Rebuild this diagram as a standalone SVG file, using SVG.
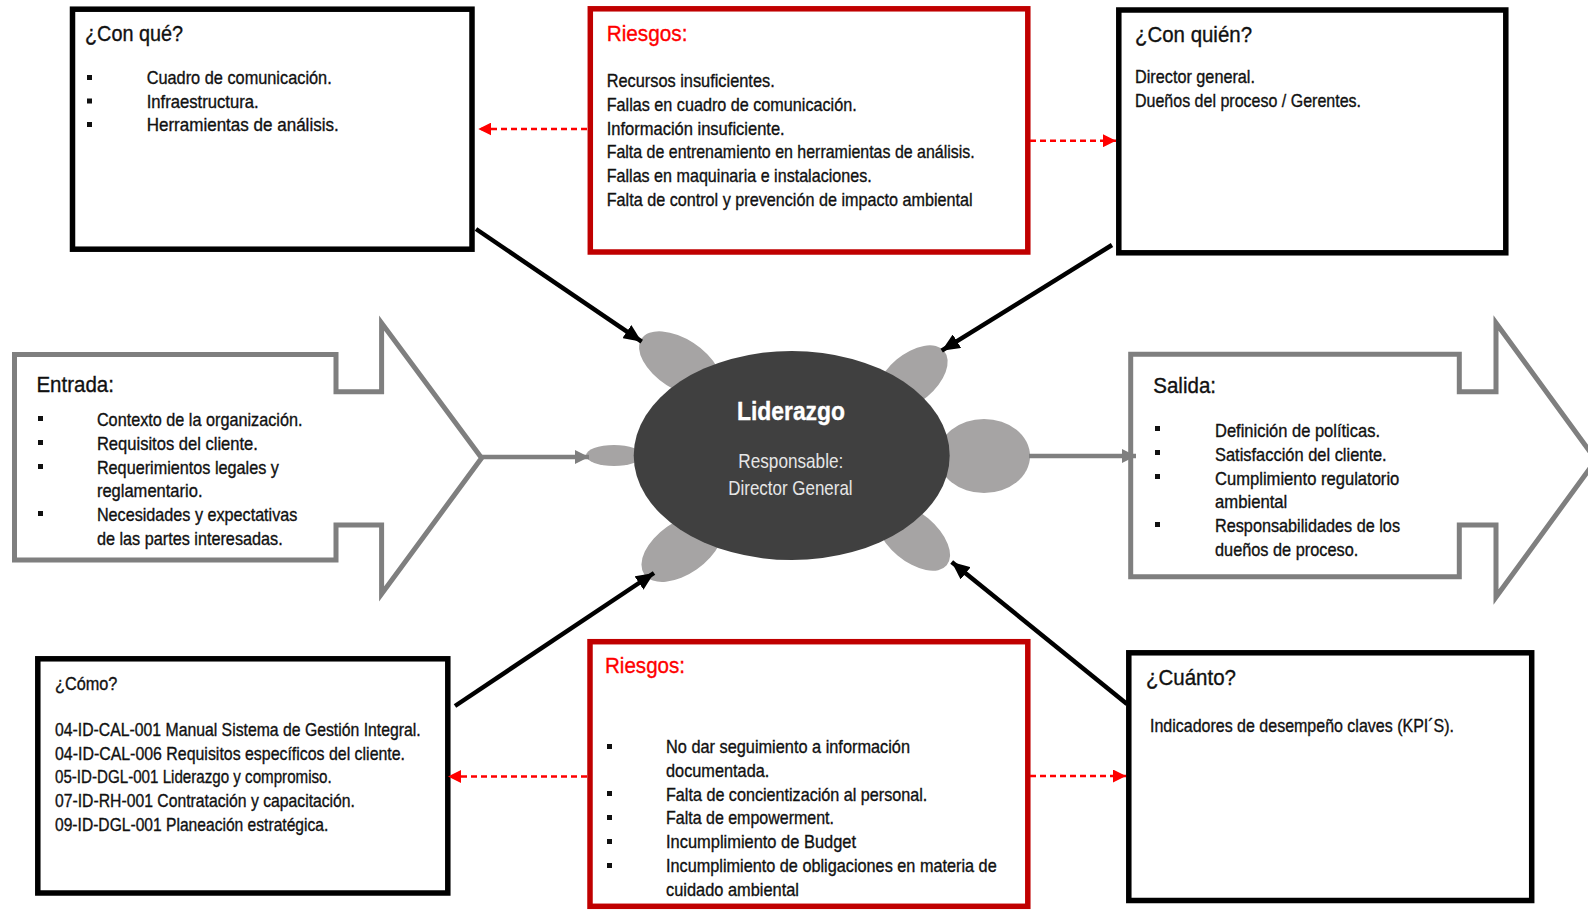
<svg xmlns="http://www.w3.org/2000/svg" width="1588" height="910" viewBox="0 0 1588 910">
  <defs>
    <style>
      text { font-family: "Liberation Sans Narrow", "Liberation Sans", Arial, sans-serif; fill: #111; stroke: #111; stroke-width: 0.35; }
      .t { font-size: 22px; }
      .b { font-size: 18.5px; }
      .red { fill: #ff0000; stroke: #ff0000; }
      .box { fill: #fff; stroke: #000; stroke-width: 5.5; }
      .rbox { fill: #fff; stroke: #c00000; stroke-width: 5.5; }
      .io { fill: #fff; stroke: #7f7f7f; stroke-width: 5; stroke-linejoin: miter; stroke-miterlimit: 10; }
      .blt { fill: #111; }
      .petal { fill: #a6a4a4; }
      .core { fill: #404040; }
      .ct { fill: #ffffff; stroke: #ffffff; }
      .cs { fill: #e6e6e6; stroke: none; font-size: 21px; }
      .blk { stroke: #000; stroke-width: 4.5; fill: none; }
      .gry { stroke: #7f7f7f; stroke-width: 4.5; fill: none; }
      .dsh { stroke: #ff0000; stroke-width: 2.5; stroke-dasharray: 6 4; fill: none; }
    </style>
    <marker id="headBlack" markerUnits="userSpaceOnUse" viewBox="0 0 18 16" refX="18" refY="8" markerWidth="18" markerHeight="16" orient="auto">
      <path d="M0,0 L18,8 L0,16 Z" fill="#000"/>
    </marker>
    <marker id="headGray" markerUnits="userSpaceOnUse" viewBox="0 0 14 14" refX="14" refY="7" markerWidth="14" markerHeight="14" orient="auto">
      <path d="M0,0 L14,7 L0,14 Z" fill="#7f7f7f"/>
    </marker>
    <marker id="headRed" markerUnits="userSpaceOnUse" viewBox="0 0 13 13" refX="13" refY="6.5" markerWidth="13" markerHeight="13" orient="auto">
      <path d="M0,0 L13,6.5 L0,13 Z" fill="#ff0000"/>
    </marker>
  </defs>

  <rect width="1588" height="910" fill="#fff"/>

  <!-- Input arrow -->
  <g id="entrada">
    <path class="io" d="M14.5,354.5 H336 V391.7 H381.6 V323 L481.6,458 L381.6,594 V525 H336 V560 H14.5 Z"/>
    <text class="t" x="36.4" y="391.7" textLength="77.5" lengthAdjust="spacingAndGlyphs">Entrada:</text>
    <rect class="blt" x="38" y="416" width="5" height="5"/>
    <rect class="blt" x="38" y="440" width="5" height="5"/>
    <rect class="blt" x="38" y="464" width="5" height="5"/>
    <rect class="blt" x="38" y="511" width="5" height="5"/>
    <text class="b" x="96.9" y="426" textLength="205.6" lengthAdjust="spacingAndGlyphs">Contexto de la organización.</text>
    <text class="b" x="96.9" y="449.8" textLength="161" lengthAdjust="spacingAndGlyphs">Requisitos del cliente.</text>
    <text class="b" x="96.9" y="473.6" textLength="182" lengthAdjust="spacingAndGlyphs">Requerimientos legales y</text>
    <text class="b" x="96.9" y="497.4" textLength="105.6" lengthAdjust="spacingAndGlyphs">reglamentario.</text>
    <text class="b" x="96.9" y="521.2" textLength="200.5" lengthAdjust="spacingAndGlyphs">Necesidades y expectativas</text>
    <text class="b" x="96.9" y="545" textLength="185.8" lengthAdjust="spacingAndGlyphs">de las partes interesadas.</text>
  </g>

  <!-- Output arrow -->
  <g id="salida">
    <path class="io" d="M1130.7,354.3 H1459.3 V391.7 H1496 V323 L1596,460 L1496,597 V525 H1459.3 V576.7 H1130.7 Z"/>
    <text class="t" x="1153.3" y="393.3" textLength="62.7" lengthAdjust="spacingAndGlyphs">Salida:</text>
    <rect class="blt" x="1155" y="426" width="5" height="5"/>
    <rect class="blt" x="1155" y="450" width="5" height="5"/>
    <rect class="blt" x="1155" y="474" width="5" height="5"/>
    <rect class="blt" x="1155" y="522" width="5" height="5"/>
    <text class="b" x="1215" y="436.5" textLength="165" lengthAdjust="spacingAndGlyphs">Definición de políticas.</text>
    <text class="b" x="1215" y="460.5" textLength="171.7" lengthAdjust="spacingAndGlyphs">Satisfacción del cliente.</text>
    <text class="b" x="1215" y="484.5" textLength="184.3" lengthAdjust="spacingAndGlyphs">Cumplimiento regulatorio</text>
    <text class="b" x="1215" y="508.3" textLength="72.3" lengthAdjust="spacingAndGlyphs">ambiental</text>
    <text class="b" x="1215" y="532.3" textLength="185" lengthAdjust="spacingAndGlyphs">Responsabilidades de los</text>
    <text class="b" x="1215" y="556" textLength="143.3" lengthAdjust="spacingAndGlyphs">dueños de proceso.</text>
  </g>

  <!-- Central process -->
  <g id="liderazgo">
    <ellipse class="petal" cx="680" cy="364" rx="46" ry="25" transform="rotate(33 680 364)"/>
    <ellipse class="petal" cx="912" cy="378" rx="42" ry="24" transform="rotate(-40 912 378)"/>
    <ellipse class="petal" cx="984" cy="456" rx="46" ry="37"/>
    <ellipse class="petal" cx="614" cy="455.5" rx="28" ry="10.5"/>
    <ellipse class="petal" cx="682" cy="548" rx="46" ry="26" transform="rotate(-35 682 548)"/>
    <ellipse class="petal" cx="913" cy="537" rx="44" ry="24" transform="rotate(40 913 537)"/>
    <ellipse class="core" cx="791.7" cy="455.5" rx="158" ry="104.5"/>
    <text class="ct" x="737" y="420" font-size="25" font-weight="bold" textLength="108" lengthAdjust="spacingAndGlyphs">Liderazgo</text>
    <text class="cs" x="738.3" y="468.3" textLength="105" lengthAdjust="spacingAndGlyphs">Responsable:</text>
    <text class="cs" x="728.3" y="495" textLength="124.3" lengthAdjust="spacingAndGlyphs">Director General</text>
  </g>

  <!-- Resources -->
  <g id="con-que">
    <rect class="box" x="72.5" y="9.2" width="399.5" height="240"/>
    <text class="t" x="85" y="40.7" textLength="98" lengthAdjust="spacingAndGlyphs">¿Con qué?</text>
    <rect class="blt" x="87" y="75" width="5" height="5"/>
    <rect class="blt" x="87" y="98.5" width="5" height="5"/>
    <rect class="blt" x="87" y="122" width="5" height="5"/>
    <text class="b" x="146.7" y="84" textLength="185" lengthAdjust="spacingAndGlyphs">Cuadro de comunicación.</text>
    <text class="b" x="146.7" y="107.5" textLength="112" lengthAdjust="spacingAndGlyphs">Infraestructura.</text>
    <text class="b" x="146.7" y="131" textLength="192" lengthAdjust="spacingAndGlyphs">Herramientas de análisis.</text>
  </g>

  <!-- Upper risks -->
  <g id="riesgos-sup">
    <rect class="rbox" x="590.3" y="8.8" width="437.5" height="243.2"/>
    <text class="t red" x="606.7" y="40.7" textLength="80.7" lengthAdjust="spacingAndGlyphs">Riesgos:</text>
    <text class="b" x="606.7" y="87" textLength="168" lengthAdjust="spacingAndGlyphs">Recursos insuficientes.</text>
    <text class="b" x="606.7" y="110.8" textLength="250" lengthAdjust="spacingAndGlyphs">Fallas en cuadro de comunicación.</text>
    <text class="b" x="606.7" y="134.6" textLength="178" lengthAdjust="spacingAndGlyphs">Información insuficiente.</text>
    <text class="b" x="606.7" y="158.4" textLength="368" lengthAdjust="spacingAndGlyphs">Falta de entrenamiento en herramientas de análisis.</text>
    <text class="b" x="606.7" y="182.2" textLength="265" lengthAdjust="spacingAndGlyphs">Fallas en maquinaria e instalaciones.</text>
    <text class="b" x="606.7" y="206" textLength="366" lengthAdjust="spacingAndGlyphs">Falta de control y prevención de impacto ambiental</text>
  </g>

  <!-- People -->
  <g id="con-quien">
    <rect class="box" x="1118.8" y="10" width="387" height="242.8"/>
    <text class="t" x="1135" y="41.7" textLength="117" lengthAdjust="spacingAndGlyphs">¿Con quién?</text>
    <text class="b" x="1135" y="82.5" textLength="120" lengthAdjust="spacingAndGlyphs">Director general.</text>
    <text class="b" x="1135" y="106.5" textLength="226" lengthAdjust="spacingAndGlyphs">Dueños del proceso / Gerentes.</text>
  </g>

  <!-- Methods -->
  <g id="como">
    <rect class="box" x="37.8" y="658.8" width="410" height="234.2"/>
    <text x="55" y="690" font-size="18" textLength="62.3" lengthAdjust="spacingAndGlyphs">¿Cómo?</text>
    <text class="b" x="55" y="736" textLength="365.7" lengthAdjust="spacingAndGlyphs">04-ID-CAL-001 Manual Sistema de Gestión Integral.</text>
    <text class="b" x="55" y="759.7" textLength="350" lengthAdjust="spacingAndGlyphs">04-ID-CAL-006 Requisitos específicos del cliente.</text>
    <text class="b" x="55" y="783.4" textLength="276.7" lengthAdjust="spacingAndGlyphs">05-ID-DGL-001 Liderazgo y compromiso.</text>
    <text class="b" x="55" y="807.1" textLength="300" lengthAdjust="spacingAndGlyphs">07-ID-RH-001 Contratación y capacitación.</text>
    <text class="b" x="55" y="830.8" textLength="273.3" lengthAdjust="spacingAndGlyphs">09-ID-DGL-001 Planeación estratégica.</text>
  </g>

  <!-- Lower risks -->
  <g id="riesgos-inf">
    <rect class="rbox" x="590" y="641.7" width="437.8" height="264.6"/>
    <text class="t red" x="605" y="673.3" textLength="80" lengthAdjust="spacingAndGlyphs">Riesgos:</text>
    <rect class="blt" x="607" y="744" width="5" height="5"/>
    <rect class="blt" x="607" y="791" width="5" height="5"/>
    <rect class="blt" x="607" y="815" width="5" height="5"/>
    <rect class="blt" x="607" y="839" width="5" height="5"/>
    <rect class="blt" x="607" y="863" width="5" height="5"/>
    <text class="b" x="666" y="753.4" textLength="244" lengthAdjust="spacingAndGlyphs">No dar seguimiento a información</text>
    <text class="b" x="666" y="776.9" textLength="103.3" lengthAdjust="spacingAndGlyphs">documentada.</text>
    <text class="b" x="666" y="800.6" textLength="261.3" lengthAdjust="spacingAndGlyphs">Falta de concientización al personal.</text>
    <text class="b" x="666" y="824.4" textLength="168" lengthAdjust="spacingAndGlyphs">Falta de empowerment.</text>
    <text class="b" x="666" y="848.3" textLength="190" lengthAdjust="spacingAndGlyphs">Incumplimiento de Budget</text>
    <text class="b" x="666" y="872.4" textLength="330.7" lengthAdjust="spacingAndGlyphs">Incumplimiento de obligaciones en materia de</text>
    <text class="b" x="666" y="896" textLength="133" lengthAdjust="spacingAndGlyphs">cuidado ambiental</text>
  </g>

  <!-- Measures -->
  <g id="cuanto">
    <rect class="box" x="1128.8" y="652.8" width="402.9" height="247.7"/>
    <text class="t" x="1146" y="685" textLength="90" lengthAdjust="spacingAndGlyphs">¿Cuánto?</text>
    <text class="b" x="1150" y="731.7" textLength="304" lengthAdjust="spacingAndGlyphs">Indicadores de desempeño claves (KPI´S).</text>
  </g>

  <!-- Connectors -->
  <g id="connectors">
    <line class="blk" x1="476" y1="229" x2="641.7" y2="341.7" marker-end="url(#headBlack)"/>
    <line class="blk" x1="1112" y1="245" x2="941.7" y2="350.7" marker-end="url(#headBlack)"/>
    <line class="blk" x1="455" y1="706" x2="654" y2="573" marker-end="url(#headBlack)"/>
    <line class="blk" x1="1127" y1="704" x2="951.7" y2="562" marker-end="url(#headBlack)"/>
    <line class="gry" x1="482" y1="457" x2="589" y2="457" marker-end="url(#headGray)"/>
    <line class="gry" x1="1029" y1="456" x2="1136" y2="456" marker-end="url(#headGray)"/>
    <line class="dsh" x1="587" y1="129" x2="478.3" y2="129" marker-end="url(#headRed)"/>
    <line class="dsh" x1="1030" y1="140.7" x2="1116" y2="140.7" marker-end="url(#headRed)"/>
    <line class="dsh" x1="587" y1="776.5" x2="448" y2="776.5" marker-end="url(#headRed)"/>
    <line class="dsh" x1="1030" y1="776" x2="1126" y2="776" marker-end="url(#headRed)"/>
  </g>
</svg>
